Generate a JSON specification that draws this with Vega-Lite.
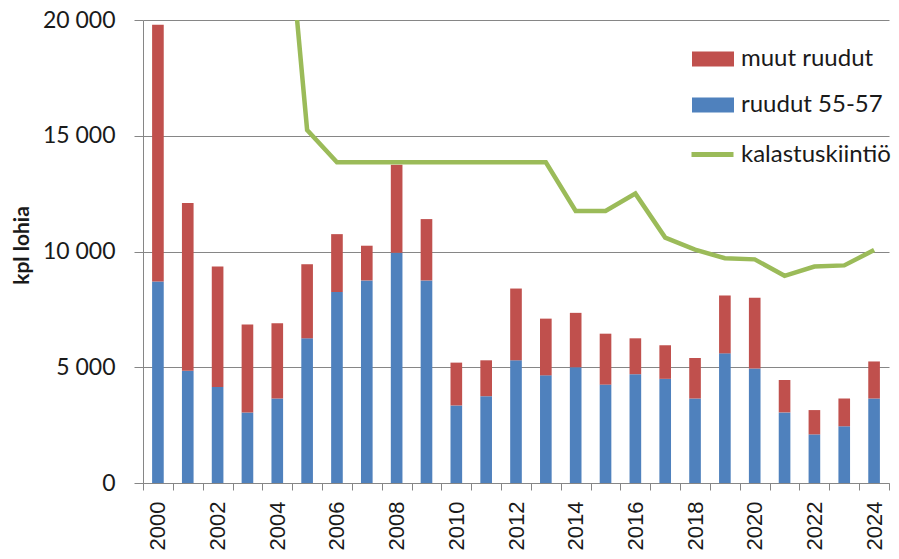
{
  "$schema": "https://vega.github.io/schema/vega-lite/v6.json",
  "width": 746,
  "height": 463,
  "autosize": {"type": "none"},
  "padding": {"left": 143, "top": 20, "right": 10, "bottom": 76},
  "background": "white",
  "config": {
    "view": {"stroke": null},
    "axis": {
      "domainColor": "#868686",
      "gridColor": "#868686",
      "tickColor": "#868686",
      "labelColor": "#1a1a1a",
      "titleColor": "#1a1a1a"
    },
    "legend": {"padding": 0}
  },
  "datasets": {
    "catch": [
      {"year": 2000, "series": "ruudut 55-57", "value": 8700},
      {"year": 2000, "series": "muut ruudut", "value": 11100},
      {"year": 2001, "series": "ruudut 55-57", "value": 4850},
      {"year": 2001, "series": "muut ruudut", "value": 7250},
      {"year": 2002, "series": "ruudut 55-57", "value": 4150},
      {"year": 2002, "series": "muut ruudut", "value": 5200},
      {"year": 2003, "series": "ruudut 55-57", "value": 3050},
      {"year": 2003, "series": "muut ruudut", "value": 3800},
      {"year": 2004, "series": "ruudut 55-57", "value": 3650},
      {"year": 2004, "series": "muut ruudut", "value": 3250},
      {"year": 2005, "series": "ruudut 55-57", "value": 6250},
      {"year": 2005, "series": "muut ruudut", "value": 3200},
      {"year": 2006, "series": "ruudut 55-57", "value": 8250},
      {"year": 2006, "series": "muut ruudut", "value": 2500},
      {"year": 2007, "series": "ruudut 55-57", "value": 8750},
      {"year": 2007, "series": "muut ruudut", "value": 1500},
      {"year": 2008, "series": "ruudut 55-57", "value": 9950},
      {"year": 2008, "series": "muut ruudut", "value": 3800},
      {"year": 2009, "series": "ruudut 55-57", "value": 8750},
      {"year": 2009, "series": "muut ruudut", "value": 2650},
      {"year": 2010, "series": "ruudut 55-57", "value": 3350},
      {"year": 2010, "series": "muut ruudut", "value": 1850},
      {"year": 2011, "series": "ruudut 55-57", "value": 3750},
      {"year": 2011, "series": "muut ruudut", "value": 1550},
      {"year": 2012, "series": "ruudut 55-57", "value": 5300},
      {"year": 2012, "series": "muut ruudut", "value": 3100},
      {"year": 2013, "series": "ruudut 55-57", "value": 4650},
      {"year": 2013, "series": "muut ruudut", "value": 2450},
      {"year": 2014, "series": "ruudut 55-57", "value": 5000},
      {"year": 2014, "series": "muut ruudut", "value": 2350},
      {"year": 2015, "series": "ruudut 55-57", "value": 4250},
      {"year": 2015, "series": "muut ruudut", "value": 2200},
      {"year": 2016, "series": "ruudut 55-57", "value": 4700},
      {"year": 2016, "series": "muut ruudut", "value": 1550},
      {"year": 2017, "series": "ruudut 55-57", "value": 4500},
      {"year": 2017, "series": "muut ruudut", "value": 1450},
      {"year": 2018, "series": "ruudut 55-57", "value": 3650},
      {"year": 2018, "series": "muut ruudut", "value": 1750},
      {"year": 2019, "series": "ruudut 55-57", "value": 5600},
      {"year": 2019, "series": "muut ruudut", "value": 2500},
      {"year": 2020, "series": "ruudut 55-57", "value": 4950},
      {"year": 2020, "series": "muut ruudut", "value": 3050},
      {"year": 2021, "series": "ruudut 55-57", "value": 3050},
      {"year": 2021, "series": "muut ruudut", "value": 1400},
      {"year": 2022, "series": "ruudut 55-57", "value": 2100},
      {"year": 2022, "series": "muut ruudut", "value": 1050},
      {"year": 2023, "series": "ruudut 55-57", "value": 2450},
      {"year": 2023, "series": "muut ruudut", "value": 1200},
      {"year": 2024, "series": "ruudut 55-57", "value": 3650},
      {"year": 2024, "series": "muut ruudut", "value": 1600}
    ],
    "quota": [
      {"year": 2004, "series": "kalastuskiintiö", "quota": 29400},
      {"year": 2005, "series": "kalastuskiintiö", "quota": 15250},
      {"year": 2006, "series": "kalastuskiintiö", "quota": 13850},
      {"year": 2007, "series": "kalastuskiintiö", "quota": 13850},
      {"year": 2008, "series": "kalastuskiintiö", "quota": 13850},
      {"year": 2009, "series": "kalastuskiintiö", "quota": 13850},
      {"year": 2010, "series": "kalastuskiintiö", "quota": 13850},
      {"year": 2011, "series": "kalastuskiintiö", "quota": 13850},
      {"year": 2012, "series": "kalastuskiintiö", "quota": 13850},
      {"year": 2013, "series": "kalastuskiintiö", "quota": 13850},
      {"year": 2014, "series": "kalastuskiintiö", "quota": 11750},
      {"year": 2015, "series": "kalastuskiintiö", "quota": 11750},
      {"year": 2016, "series": "kalastuskiintiö", "quota": 12500},
      {"year": 2017, "series": "kalastuskiintiö", "quota": 10600},
      {"year": 2018, "series": "kalastuskiintiö", "quota": 10080},
      {"year": 2019, "series": "kalastuskiintiö", "quota": 9710},
      {"year": 2020, "series": "kalastuskiintiö", "quota": 9660},
      {"year": 2021, "series": "kalastuskiintiö", "quota": 8950},
      {"year": 2022, "series": "kalastuskiintiö", "quota": 9350},
      {"year": 2023, "series": "kalastuskiintiö", "quota": 9400},
      {"year": 2024, "series": "kalastuskiintiö", "quota": 10060}
    ]
  },
  "encoding": {
    "x": {
      "field": "year",
      "type": "ordinal",
      "scale": {"paddingInner": 0, "paddingOuter": 0},
      "axis": {
        "title": null,
        "tickBand": "extent",
        "tickSize": 7,
        "labelAngle": 270,
        "labelAlign": "right",
        "labelBaseline": "middle",
        "labelPadding": 11,
        "labelFont": "Liberation Sans",
        "labelFontSize": 22,
        "labelExpr": "datum.value % 2 == 0 ? datum.label : ''"
      }
    }
  },
  "layer": [
    {
      "data": {"name": "catch"},
      "mark": {"type": "bar", "width": {"band": 0.39}},
      "encoding": {
        "y": {
          "field": "value",
          "type": "quantitative",
          "stack": "zero",
          "scale": {"domain": [0, 20000]},
          "axis": {
            "values": [0, 5000, 10000, 15000, 20000],
            "tickSize": 9,
            "labelPadding": 19,
            "labelFont": "Lato",
            "labelFontSize": 23,
            "labelExpr": "replace(format(datum.value, ','), ',', ' ')",
            "title": "kpl lohia",
            "titleFont": "Lato",
            "titleFontSize": 21,
            "titleFontWeight": "bold",
            "titleAngle": 270,
            "titleAlign": "center",
            "titleBaseline": "middle",
            "titleX": -121,
            "titleY": 225
          }
        },
        "color": {
          "field": "series",
          "type": "nominal",
          "scale": {
            "domain": ["muut ruudut", "ruudut 55-57"],
            "range": ["#C0504D", "#4F81BD"]
          },
          "legend": {
            "title": null,
            "orient": "none",
            "legendX": 549,
            "legendY": 18,
            "symbolType": "M-1,-0.357H1V0.357H-1Z",
            "symbolSize": 1764,
            "symbolStrokeWidth": 0,
            "symbolOpacity": 1,
            "labelFont": "Lato",
            "labelFontSize": 24,
            "labelColor": "#1a1a1a",
            "labelOffset": 7,
            "rowPadding": 13
          }
        },
        "order": {"field": "series", "sort": "descending"}
      }
    },
    {
      "data": {"name": "quota"},
      "mark": {"type": "line", "clip": true, "strokeWidth": 4.5},
      "encoding": {
        "y": {"field": "quota", "type": "quantitative"},
        "stroke": {
          "field": "series",
          "type": "nominal",
          "scale": {"domain": ["kalastuskiintiö"], "range": ["#9BBB59"]},
          "legend": {
            "title": null,
            "orient": "none",
            "legendX": 546,
            "legendY": 111,
            "symbolType": "stroke",
            "symbolSize": 1764,
            "symbolStrokeWidth": 5,
            "labelFont": "Lato",
            "labelFontSize": 24,
            "labelColor": "#1a1a1a",
            "labelOffset": 5
          }
        }
      }
    }
  ]
}
